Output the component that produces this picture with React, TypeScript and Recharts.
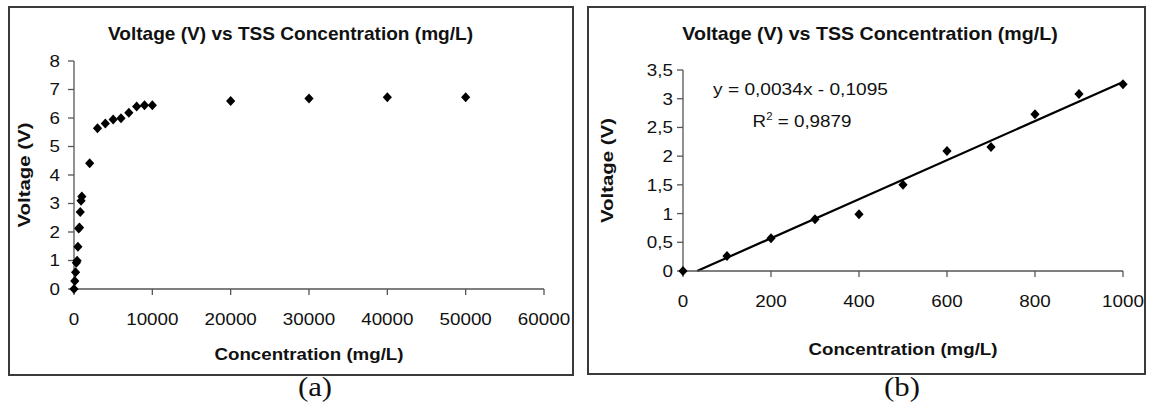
import React from "react";
import { ScatterChart, Scatter, XAxis, YAxis, ReferenceLine } from "recharts";

const TITLE = "Voltage (V) vs TSS Concentration (mg/L)";
const X_TITLE = "Concentration (mg/L)";
const Y_TITLE = "Voltage (V)";

// panel (a): full range
const aConc = [0, 100, 200, 300, 400, 500, 600, 700, 800, 900, 1000, 2000, 3000, 4000, 5000, 6000, 7000, 8000, 9000, 10000, 20000, 30000, 40000, 50000];
const aVolt = [0, 0.28, 0.59, 0.92, 0.99, 1.48, 2.12, 2.16, 2.7, 3.1, 3.25, 4.41, 5.64, 5.81, 5.95, 5.99, 6.18, 6.4, 6.45, 6.45, 6.6, 6.68, 6.73, 6.73];
const aXTicks = [0, 10000, 20000, 30000, 40000, 50000, 60000];
const aYTicks = [0, 1, 2, 3, 4, 5, 6, 7, 8];

// panel (b): linear range
const bConc = [0, 100, 200, 300, 400, 500, 600, 700, 800, 900, 1000];
const bVolt = [0, 0.26, 0.57, 0.9, 0.99, 1.5, 2.09, 2.16, 2.73, 3.08, 3.25];
const bXTicks = [0, 200, 400, 600, 800, 1000];
const bYTicks = [0, 0.5, 1, 1.5, 2, 2.5, 3, 3.5];
const bYTickLabels = ["0", "0,5", "1", "1,5", "2", "2,5", "3", "3,5"];

// trend line end points as drawn
const trendX = [32, 1000];
const trendY = [0, 3.29];
const equation = "y = 0,0034x - 0,1095";
const rSquared = "0,9879";

const FONT = "'Liberation Sans', Arial, sans-serif";
const TICK_SIZE = 16.5;
const WIDE = 1.14;

const aData = aConc.map((x, i) => ({ x, y: aVolt[i] }));
const bData = bConc.map((x, i) => ({ x, y: bVolt[i] }));

function WideTick(props: any) {
  const { x, y, payload, anchor, dy, labels, ticks } = props;
  let txt: any = payload.value;
  if (labels) txt = labels[ticks.indexOf(payload.value)];
  return (
    <g transform={`translate(${x},${y}) scale(${WIDE},1)`}>
      <text x={0} y={0} dy={dy} textAnchor={anchor} fontSize={TICK_SIZE} fontFamily={FONT} fill="#111">
        {txt}
      </text>
    </g>
  );
}

const Diamond = (p: any) => {
  const { cx, cy } = p;
  if (cx == null || cy == null) return <g />;
  return (
    <polygon
      points={`${cx},${cy - 5} ${cx + 4.6},${cy} ${cx},${cy + 5} ${cx - 4.6},${cy}`}
      fill="#000"
    />
  );
};

const xTitle = (off: number) => (props: any) => {
  const vb = props.viewBox || {};
  const cx = vb.x + vb.width / 2;
  return (
    <g transform={`translate(${cx},${vb.y + off}) scale(1.1,1)`}>
      <text textAnchor="middle" fontSize={17} fontWeight="bold" fontFamily={FONT} fill="#111">
        {X_TITLE}
      </text>
    </g>
  );
};

const yTitle = (off: number) => (props: any) => {
  const vb = props.viewBox || {};
  const cy = vb.y + vb.height / 2;
  return (
    <g transform={`translate(${vb.x + off},${cy}) rotate(-90) scale(1.2,1)`}>
      <text textAnchor="middle" fontSize={17} fontWeight="bold" fontFamily={FONT} fill="#111">
        {Y_TITLE}
      </text>
    </g>
  );
};

const axisStroke = { stroke: "#555", strokeWidth: 1.3 };

const boxStyle = (left: number, top: number, w: number, h: number): React.CSSProperties => ({
  position: "absolute",
  left,
  top,
  width: w,
  height: h,
  border: "2px solid #3a3a3a",
  boxSizing: "border-box",
});

export default function App() {
  return (
    <div style={{ position: "absolute", left: 0, top: 0, width: 1150, height: 410, background: "#fff", overflow: "hidden" }}>
      <div style={boxStyle(8, 6, 566, 370)} />
      <div style={boxStyle(587, 6, 559, 369)} />

      <div style={{ position: "absolute", left: 0, top: 0 }}>
        <ScatterChart width={580} height={410} margin={{ top: 61, right: 36, bottom: 91, left: 14 }}>
          <XAxis
            type="number"
            dataKey="x"
            domain={[0, 60000]}
            ticks={aXTicks}
            interval={0}
            tickSize={6}
            tickMargin={18}
            height={30}
            axisLine={axisStroke}
            tickLine={axisStroke}
            tick={(p: any) => <WideTick {...p} anchor="middle" dy="0.71em" />}
            label={xTitle(71)}
          />
          <YAxis
            type="number"
            dataKey="y"
            domain={[0, 8]}
            ticks={aYTicks}
            interval={0}
            tickSize={6}
            tickMargin={8}
            width={60}
            axisLine={axisStroke}
            tickLine={axisStroke}
            tick={(p: any) => <WideTick {...p} anchor="end" dy="0.36em" />}
            label={yTitle(16)}
          />
          <Scatter data={aData} shape={Diamond} isAnimationActive={false} />
        </ScatterChart>
      </div>

      <div style={{ position: "absolute", left: 580, top: 0 }}>
        <ScatterChart width={570} height={410} margin={{ top: 70, right: 27, bottom: 109, left: 43 }}>
          <XAxis
            type="number"
            dataKey="x"
            domain={[0, 1000]}
            ticks={bXTicks}
            interval={0}
            tickSize={6}
            tickMargin={18}
            height={30}
            axisLine={axisStroke}
            tickLine={axisStroke}
            tick={(p: any) => <WideTick {...p} anchor="middle" dy="0.71em" />}
            label={xTitle(84)}
          />
          <YAxis
            type="number"
            dataKey="y"
            domain={[0, 3.5]}
            ticks={bYTicks}
            interval={0}
            tickSize={6}
            tickMargin={4}
            width={60}
            axisLine={axisStroke}
            tickLine={axisStroke}
            tick={(p: any) => <WideTick {...p} anchor="end" dy="0.36em" labels={bYTickLabels} ticks={bYTicks} />}
            label={yTitle(-10)}
          />
          <ReferenceLine
            segment={[
              { x: trendX[0], y: trendY[0] },
              { x: trendX[1], y: trendY[1] },
            ]}
            stroke="#000"
            strokeWidth={2.2}
            ifOverflow="visible"
          />
          <Scatter data={bData} shape={Diamond} isAnimationActive={false} />
        </ScatterChart>
      </div>

      <svg width={1150} height={410} style={{ position: "absolute", left: 0, top: 0, pointerEvents: "none" }}>
        <g transform="translate(290.5,39.5) scale(1.06,1)">
          <text textAnchor="middle" fontSize={18} fontWeight="bold" fontFamily={FONT} fill="#111">{TITLE}</text>
        </g>
        <g transform="translate(870,39.5) scale(1.09,1)">
          <text textAnchor="middle" fontSize={18} fontWeight="bold" fontFamily={FONT} fill="#111">{TITLE}</text>
        </g>
        <g transform="translate(800.5,95) scale(1.16,1)">
          <text textAnchor="middle" fontSize={16.5} fontFamily={FONT} fill="#111">{equation}</text>
        </g>
        <g transform="translate(802,127) scale(1.14,1)">
          <text textAnchor="middle" fontSize={16.5} fontFamily={FONT} fill="#111">
            R<tspan dy={-7} fontSize={10}>2</tspan>
            <tspan dy={7}>{" = " + rSquared}</tspan>
          </text>
        </g>
        <g transform="translate(315,396) scale(1.1,1)">
          <text textAnchor="middle" fontSize={28} fontFamily="'Liberation Serif', 'Times New Roman', serif" fill="#111">(a)</text>
        </g>
        <g transform="translate(902,396) scale(1.1,1)">
          <text textAnchor="middle" fontSize={28} fontFamily="'Liberation Serif', 'Times New Roman', serif" fill="#111">(b)</text>
        </g>
      </svg>
    </div>
  );
}
